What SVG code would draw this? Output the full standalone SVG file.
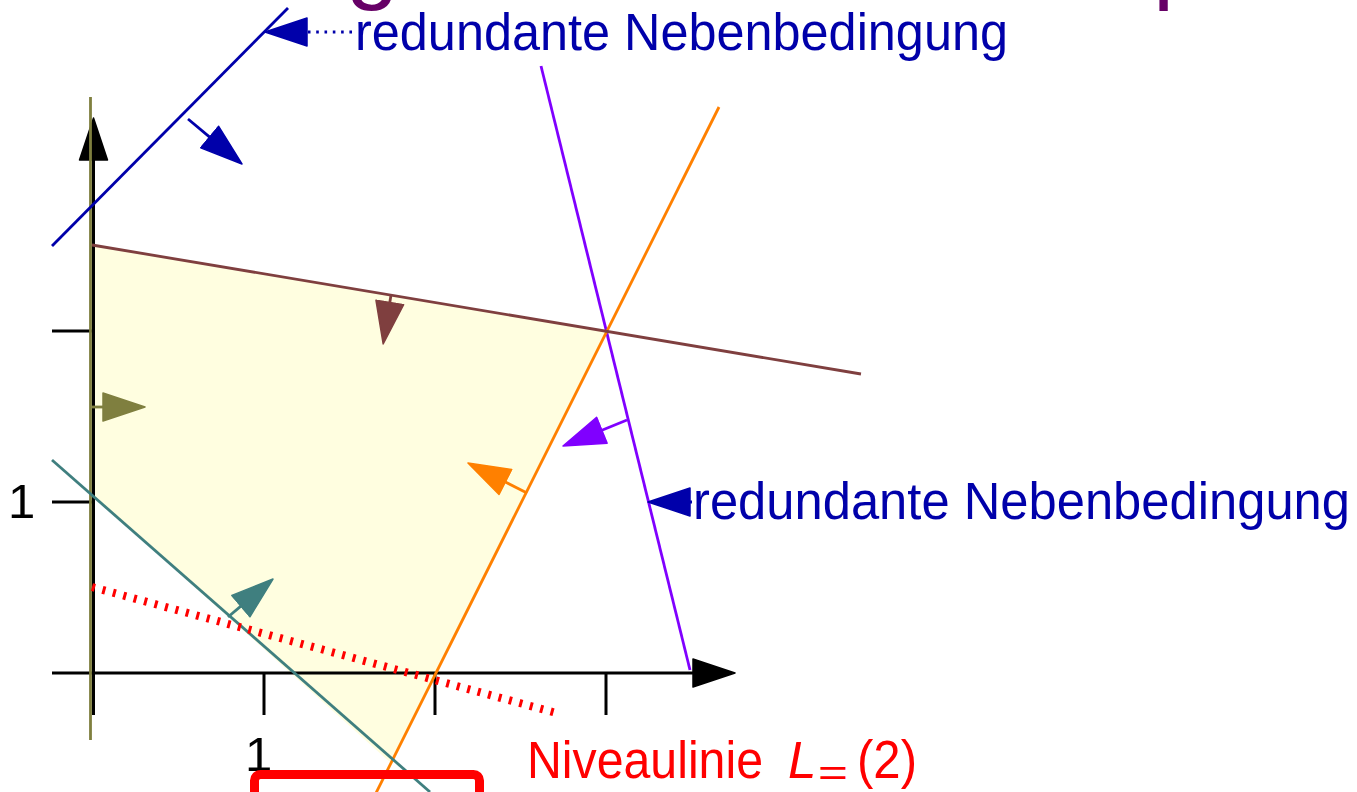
<svg xmlns="http://www.w3.org/2000/svg" width="1357" height="792" viewBox="0 0 1357 792">
<defs>
<style>
.ax{stroke:#000;stroke-width:3;fill:none}
.ln{stroke-width:2.8;fill:none}
.lbl{font-family:"Liberation Sans",Arial,sans-serif;font-size:51px}
.tk{font-family:"Liberation Sans",Arial,sans-serif;font-size:49px;fill:#000}
</style>
<marker id="hBlack" viewBox="-1 -16 46 32" refX="0" refY="0" markerWidth="46" markerHeight="32" markerUnits="userSpaceOnUse" orient="auto"><path d="M0,-14 L42,0 L0,14 Z" fill="#000" stroke="#000" stroke-width="1.5" stroke-linejoin="round"/></marker>
<marker id="hBlue" viewBox="-1 -16 46 32" refX="0" refY="0" markerWidth="46" markerHeight="32" markerUnits="userSpaceOnUse" orient="auto"><path d="M0,-14 L42,0 L0,14 Z" fill="#0000AA" stroke="#0000AA" stroke-width="1.5" stroke-linejoin="round"/></marker>
<marker id="hBrown" viewBox="-1 -16 46 32" refX="0" refY="0" markerWidth="46" markerHeight="32" markerUnits="userSpaceOnUse" orient="auto"><path d="M0,-14 L42,0 L0,14 Z" fill="#7F3F3F" stroke="#7F3F3F" stroke-width="1.5" stroke-linejoin="round"/></marker>
<marker id="hOlive" viewBox="-1 -16 46 32" refX="0" refY="0" markerWidth="46" markerHeight="32" markerUnits="userSpaceOnUse" orient="auto"><path d="M0,-14 L42,0 L0,14 Z" fill="#7F7F3F" stroke="#7F7F3F" stroke-width="1.5" stroke-linejoin="round"/></marker>
<marker id="hTeal" viewBox="-1 -16 46 32" refX="0" refY="0" markerWidth="46" markerHeight="32" markerUnits="userSpaceOnUse" orient="auto"><path d="M0,-14 L42,0 L0,14 Z" fill="#3F7F7F" stroke="#3F7F7F" stroke-width="1.5" stroke-linejoin="round"/></marker>
<marker id="hOrange" viewBox="-1 -16 46 32" refX="0" refY="0" markerWidth="46" markerHeight="32" markerUnits="userSpaceOnUse" orient="auto"><path d="M0,-14 L42,0 L0,14 Z" fill="#FF8000" stroke="#FF8000" stroke-width="1.5" stroke-linejoin="round"/></marker>
<marker id="hPurple" viewBox="-1 -16 46 32" refX="0" refY="0" markerWidth="46" markerHeight="32" markerUnits="userSpaceOnUse" orient="auto"><path d="M0,-14 L42,0 L0,14 Z" fill="#8000FF" stroke="#8000FF" stroke-width="1.5" stroke-linejoin="round"/></marker>
</defs>
<rect width="1357" height="792" fill="#fff"/>

<g id="title" font-family="Liberation Sans, Arial, sans-serif" font-size="95" fill="#660066">
<text x="346" y="-9">g</text>
<text x="1153" y="-9">p</text>
</g>

<g id="feasible-region">
<polygon points="92,245 607,331 392,764 92,495" fill="#FFFEE0"/>
</g>

<g id="axes">
<line class="ax" x1="93.5" y1="715" x2="93.5" y2="160" marker-end="url(#hBlack)"/>
<line class="ax" x1="52" y1="673" x2="693" y2="673" marker-end="url(#hBlack)"/>
<line class="ax" x1="264" y1="673" x2="264" y2="715"/>
<line class="ax" x1="435" y1="673" x2="435" y2="715"/>
<line class="ax" x1="606" y1="673" x2="606" y2="715"/>
<line class="ax" x1="52" y1="502" x2="93" y2="502"/>
<line class="ax" x1="52" y1="331" x2="93" y2="331"/>
<text class="tk" x="8" y="518">1</text>
<text class="tk" x="245" y="771">1</text>
</g>

<g id="constraints">
<line class="ln" stroke="#7F7F3F" stroke-width="3.2" x1="90.5" y1="97" x2="90.5" y2="740"/>
<line class="ln" stroke="#0000AA" x1="52" y1="246" x2="288" y2="8"/>
<line class="ln" stroke="#8000FF" x1="541" y1="66" x2="690" y2="670"/>
<line class="ln" stroke="#FF8000" x1="719" y1="107" x2="376" y2="793"/>
<line class="ln" stroke="#7F3F3F" x1="92" y1="245" x2="861" y2="374"/>
<line class="ln" stroke="#3F7F7F" x1="52" y1="460" x2="430" y2="792"/>
</g>

<g id="normals">
<line class="ln" stroke="#0000AA" x1="188" y1="119" x2="209.7" y2="137.1" marker-end="url(#hBlue)"/>
<line class="ln" stroke="#7F3F3F" x1="391" y1="295" x2="389.8" y2="302.5" marker-end="url(#hBrown)"/>
<line class="ln" stroke="#7F7F3F" x1="92" y1="407" x2="103" y2="407" marker-end="url(#hOlive)"/>
<line class="ln" stroke="#3F7F7F" x1="228" y1="617" x2="240.9" y2="606.1" marker-end="url(#hTeal)"/>
<line class="ln" stroke="#FF8000" x1="527" y1="493" x2="505.4" y2="482" marker-end="url(#hOrange)"/>
<line class="ln" stroke="#8000FF" x1="627" y1="420" x2="601.9" y2="430.2" marker-end="url(#hPurple)"/>
</g>

<g id="level-line">
<line x1="92" y1="587" x2="560" y2="714" stroke="#FF0000" stroke-width="8" stroke-dasharray="3 7.8"/>
</g>

<g id="connectors">
<line class="ln" stroke="#0000AA" x1="352" y1="32" x2="307" y2="32" stroke-dasharray="2.6 5.7" marker-end="url(#hBlue)"/>
<line class="ln" stroke="#0000AA" x1="692" y1="502" x2="690" y2="502" marker-end="url(#hBlue)"/>
</g>

<g id="label-top">
<text class="lbl" x="355" y="50" fill="#0000AA" textLength="653" lengthAdjust="spacingAndGlyphs">redundante Nebenbedingung</text>
</g>
<g id="label-right">
<text class="lbl" x="693" y="519" fill="#0000AA" textLength="657" lengthAdjust="spacingAndGlyphs">redundante Nebenbedingung</text>
</g>
<g id="label-level">
<text class="lbl" y="778" fill="#FF0000"><tspan x="527" textLength="236" lengthAdjust="spacingAndGlyphs">Niveaulinie</tspan><tspan x="788" font-style="italic">L</tspan><tspan x="818" font-size="36" dy="7" textLength="30" lengthAdjust="spacingAndGlyphs">=</tspan><tspan x="857" dy="-7" font-size="54" textLength="60" lengthAdjust="spacingAndGlyphs">(2)</tspan></text>
</g>

<g id="red-box">
<rect x="254.5" y="774.5" width="225" height="50" rx="6" fill="none" stroke="#FF0000" stroke-width="9"/>
</g>
</svg>
